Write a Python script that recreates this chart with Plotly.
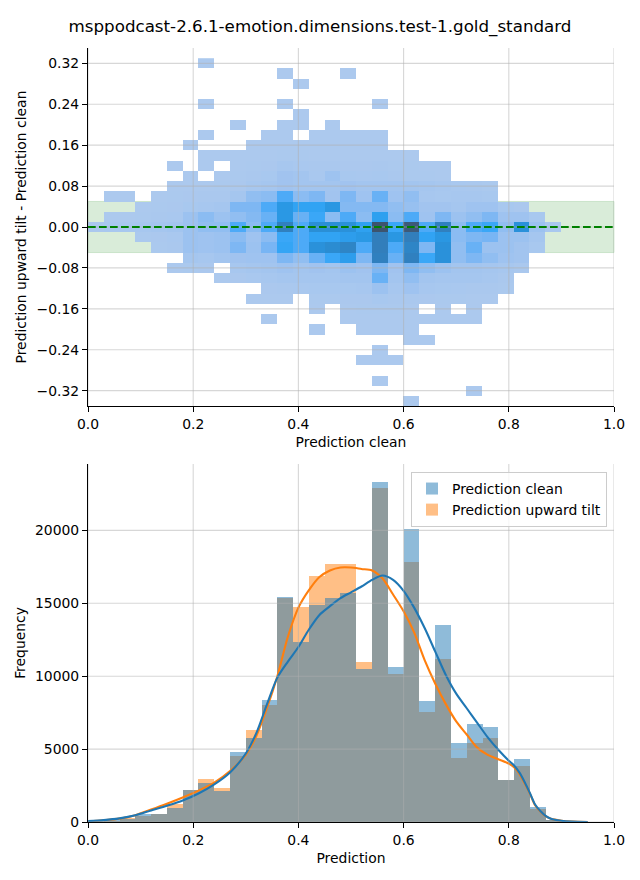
import math
import numpy as np
import plotly.graph_objects as go

TITLE = "msppodcast-2.6.1-emotion.dimensions.test-1.gold_standard"

# ---------------- 2D histogram (top panel) ----------------
HX_CENTERS = [0.015, 0.045, 0.075, 0.105, 0.135, 0.165, 0.195, 0.225, 0.255, 0.285,
              0.315, 0.345, 0.375, 0.405, 0.435, 0.465, 0.495, 0.525, 0.555, 0.585,
              0.615, 0.645, 0.675, 0.705, 0.735, 0.765, 0.795, 0.825, 0.855, 0.885]
HY_CENTERS = [0.32, 0.30, 0.28, 0.26, 0.24, 0.22, 0.20, 0.18, 0.16, 0.14, 0.12, 0.10,
              0.08, 0.06, 0.04, 0.02, 0.00, -0.02, -0.04, -0.06, -0.08, -0.10, -0.12,
              -0.14, -0.16, -0.18, -0.20, -0.22, -0.24, -0.26, -0.28, -0.30, -0.32, -0.34]
# rows top (0.32) -> bottom (-0.34), columns left -> right
COUNTS_2D = [
    [0,0,0,0,0,0,0,1,0,0, 0,0,0,0,0,0,0,0,0,0, 0,0,0,0,0,0,0,0,0,0],
    [0,0,0,0,0,0,0,0,0,0, 0,0,1,0,0,0,1,0,0,0, 0,0,0,0,0,0,0,0,0,0],
    [0,0,0,0,0,0,0,0,0,0, 0,0,0,1,0,0,0,0,0,0, 0,0,0,0,0,0,0,0,0,0],
    [0,0,0,0,0,0,0,0,0,0, 0,0,0,0,0,0,0,0,0,0, 0,0,0,0,0,0,0,0,0,0],
    [0,0,0,0,0,0,0,1,0,0, 0,0,1,0,0,0,0,0,1,0, 0,0,0,0,0,0,0,0,0,0],
    [0,0,0,0,0,0,0,0,0,0, 0,0,0,1,0,0,0,0,0,0, 0,0,0,0,0,0,0,0,0,0],
    [0,0,0,0,0,0,0,0,0,1, 0,0,1,1,0,1,0,0,0,0, 0,0,0,0,0,0,0,0,0,0],
    [0,0,0,0,0,0,0,1,0,0, 0,2,2,0,2,3,2,2,1,0, 0,0,0,0,0,0,0,0,0,0],
    [0,0,0,0,0,0,1,0,0,0, 3,4,5,5,6,6,5,5,4,0, 0,0,0,0,0,0,0,0,0,0],
    [0,0,0,0,0,0,0,3,5,5, 10,10,15,15,10,10,10,10,10,5, 3,0,0,0,0,0,0,0,0,0],
    [0,0,0,0,0,2,0,3,0,10, 15,30,100,60,40,40,30,30,40,20, 15,10,5,0,0,0,0,0,0,0],
    [0,0,0,0,0,0,3,0,10,20, 40,80,250,200,60,300,80,60,80,40, 15,15,10,0,0,0,0,0,0,0],
    [0,0,0,0,0,5,10,10,15,30, 100,150,250,200,200,200,250,200,200,200, 200,150,100,60,40,20,0,0,0,0],
    [0,3,3,0,10,20,30,40,50,150, 560,670,1570,670,900,220,900,280,1230,280, 560,110,80,100,120,80,0,0,0,0],
    [0,0,0,5,20,30,80,100,150,900, 900,1570,2450,1950,1950,2500,800,800,800,560, 450,220,220,150,280,280,80,30,0,0],
    [0,3,10,20,40,60,340,670,340,560, 800,1230,2450,1230,1750,670,1570,670,2100,670, 1570,280,900,340,560,900,280,280,80,0],
    [30,60,80,100,150,200,340,560,560,1570, 670,1570,3500,1570,2850,2850,2750,2050,5600,1750, 5300,1570,3500,670,1570,1750,560,2750,340,60],
    [0,0,0,20,30,60,340,280,340,670, 280,670,1750,1570,1950,1950,2200,2400,3600,2500, 3600,1950,2500,670,900,1000,340,340,150,0],
    [0,0,0,0,20,40,340,280,340,900, 340,1000,1850,1570,2750,3000,3300,1570,3600,1570, 3300,900,2750,560,1230,340,340,220,80,0],
    [0,0,0,0,0,0,150,100,200,250, 280,280,900,560,1230,1750,2200,900,3500,1230, 3500,1750,2750,560,900,560,280,220,0,0],
    [0,0,0,0,0,5,20,30,0,100, 150,200,280,200,250,200,340,250,900,250, 900,560,340,200,200,150,100,50,0,0],
    [0,0,0,0,0,0,0,0,10,30, 60,100,150,150,150,150,200,200,1230,200, 560,200,150,150,150,100,50,0,0,0],
    [0,0,0,0,0,0,0,0,0,0, 0,30,50,60,80,80,80,100,340,100, 280,100,80,60,50,40,20,0,0,0],
    [0,0,0,0,0,0,0,0,0,0, 3,10,10,0,15,20,30,30,80,40, 50,30,20,15,10,5,0,0,0,0],
    [0,0,0,0,0,0,0,0,0,0, 0,0,0,0,3,0,10,15,20,15, 10,0,5,0,3,0,0,0,0,0],
    [0,0,0,0,0,0,0,0,0,0, 0,1,0,0,0,0,5,8,10,8, 10,5,5,3,3,0,0,0,0,0],
    [0,0,0,0,0,0,0,0,0,0, 0,0,0,0,1,0,0,3,5,3, 3,0,0,0,0,0,0,0,0,0],
    [0,0,0,0,0,0,0,0,0,0, 0,0,0,0,0,0,0,0,0,0, 1,1,0,0,0,0,0,0,0,0],
    [0,0,0,0,0,0,0,0,0,0, 0,0,0,0,0,0,0,0,1,0, 0,0,0,0,0,0,0,0,0,0],
    [0,0,0,0,0,0,0,0,0,0, 0,0,0,0,0,0,0,1,2,1, 0,0,0,0,0,0,0,0,0,0],
    [0,0,0,0,0,0,0,0,0,0, 0,0,0,0,0,0,0,0,0,0, 0,0,0,0,0,0,0,0,0,0],
    [0,0,0,0,0,0,0,0,0,0, 0,0,0,0,0,0,0,0,1,0, 0,0,0,0,0,0,0,0,0,0],
    [0,0,0,0,0,0,0,0,0,0, 0,0,0,0,0,0,0,0,0,0, 0,0,0,0,1,0,0,0,0,0],
    [0,0,0,0,0,0,0,0,0,0, 0,0,0,0,0,0,0,0,0,0, 1,0,0,0,0,0,0,0,0,0],
]
BAND_LOW, BAND_HIGH = -0.05, 0.05

# ---------------- 1D histograms (bottom panel) ----------------
HIST_CENTERS = [0.015, 0.045, 0.075, 0.105, 0.135, 0.165, 0.195, 0.225, 0.255, 0.285,
                0.315, 0.345, 0.375, 0.405, 0.435, 0.465, 0.495, 0.525, 0.555, 0.585,
                0.615, 0.645, 0.675, 0.705, 0.735, 0.765, 0.795, 0.825, 0.855, 0.885,
                0.915, 0.945]
HIST_WIDTH = 0.03
CLEAN_COUNTS = [40, 120, 220, 520, 530, 940, 2220, 2670, 2100, 4770, 5750, 8400,
                15410, 12310, 14910, 15340, 15730, 10460, 23340, 10600, 20110, 8270,
                13540, 5390, 6690, 6490, 2860, 4290, 1030, 150, 40, 10]
TILT_COUNTS = [30, 90, 260, 440, 560, 1210, 2200, 2920, 2350, 4520, 6280, 7990,
               15340, 14730, 16900, 17700, 17700, 10940, 22920, 10140, 17860, 7540,
               11210, 4380, 5390, 5750, 2850, 3840, 870, 160, 60, 20]

KDE_X = [0.0, 0.03, 0.06, 0.09, 0.12, 0.15, 0.18, 0.21, 0.24, 0.27, 0.30, 0.32, 0.34,
         0.36, 0.38, 0.40, 0.42, 0.44, 0.46, 0.48, 0.50, 0.52, 0.54, 0.56, 0.58, 0.60,
         0.62, 0.64, 0.66, 0.68, 0.70, 0.72, 0.74, 0.76, 0.78, 0.80, 0.81, 0.82, 0.83,
         0.84, 0.85, 0.86, 0.87, 0.88, 0.90, 0.92, 0.95]
KDE_CLEAN = [60, 130, 250, 460, 790, 1110, 1470, 1950, 2580, 3400, 4700, 6100, 8050,
             9900, 11000, 12000, 13200, 14200, 14800, 15350, 15750, 16150, 16600, 16900,
             16600, 15850, 14700, 13300, 11700, 10100, 8800, 7800, 6800, 5800, 4950,
             4200, 3880, 3400, 2750, 2000, 1200, 750, 420, 230, 90, 30, 0]
KDE_TILT = [40, 120, 230, 470, 850, 1250, 1680, 2150, 2700, 3500, 4600, 5900, 7800,
            10000, 12700, 14700, 15900, 16800, 17250, 17450, 17450, 17350, 17250, 16700,
            15600, 14450, 13000, 11100, 9500, 8100, 6900, 6000, 5100, 4600, 4300,
            4000, 3750, 3300, 2650, 1950, 1150, 720, 400, 220, 90, 30, 0]

X_TICKS = [0.0, 0.2, 0.4, 0.6, 0.8, 1.0]
X_TICK_TEXT = ["0.0", "0.2", "0.4", "0.6", "0.8", "1.0"]
DIFF_TICKS = [0.32, 0.24, 0.16, 0.08, 0.0, -0.08, -0.16, -0.24, -0.32]
DIFF_TICK_TEXT = ["0.32", "0.24", "0.16", "0.08", "0.00", "\u22120.08", "\u22120.16",
                  "\u22120.24", "\u22120.32"]
FREQ_TICKS = [0, 5000, 10000, 15000, 20000]
FREQ_TICK_TEXT = ["0", "5000", "10000", "15000", "20000"]

# ---------------- seaborn-like colormap (HUSL ramp of tab:blue) ----------------
_m = [[3.2406, -1.5372, -0.4986], [-0.9689, 1.8758, 0.0415], [0.0557, -0.2040, 1.0570]]
_m_inv = [[0.4124, 0.3576, 0.1805], [0.2126, 0.7152, 0.0722], [0.0193, 0.1192, 0.9505]]
refU, refV = 0.19784, 0.46834
lab_e, lab_k = 0.008856, 903.3


def _max_chroma(L, H):
    hrad = math.radians(H)
    sinH, cosH = math.sin(hrad), math.cos(hrad)
    sub1 = (L + 16) ** 3 / 1560896.0
    sub2 = sub1 if sub1 > 0.008856 else L / 903.3
    result = float("inf")
    for m1, m2, m3 in _m:
        top = (0.99915 * m1 + 1.05122 * m2 + 1.14460 * m3) * sub2
        rbottom = 0.86330 * m3 - 0.17266 * m2
        lbottom = 0.12949 * m3 - 0.38848 * m1
        bottom = (rbottom * sinH + lbottom * cosH) * sub2
        for t in (0.0, 1.0):
            C = L * (top - 1.05122 * t) / (bottom + 0.17266 * sinH * t)
            if 0.0 < C < result:
                result = C
    return result


def _f(t):
    return t ** (1 / 3) if t > lab_e else 7.787 * t + 16 / 116


def _f_inv(t):
    return t ** 3 if t ** 3 > lab_e else (116 * t - 16) / lab_k


def _to_lin(c):
    return ((c + 0.055) / 1.055) ** 2.4 if c > 0.04045 else c / 12.92


def _from_lin(c):
    return 12.92 * c if c <= 0.0031308 else 1.055 * c ** (1 / 2.4) - 0.055


def rgb_to_husl(r, g, b):
    rgbl = [_to_lin(c) for c in (r, g, b)]
    X, Y, Z = [sum(a * b for a, b in zip(row, rgbl)) for row in _m_inv]
    d = X + 15 * Y + 3 * Z
    L = 116 * _f(Y) - 16
    U = 13 * L * (4 * X / d - refU)
    V = 13 * L * (9 * Y / d - refV)
    C = math.hypot(U, V)
    H = math.degrees(math.atan2(V, U)) % 360
    S = C / _max_chroma(L, H) * 100
    return H, S, L


def husl_to_rgb(H, S, L):
    C = _max_chroma(L, H) / 100 * S
    U = math.cos(math.radians(H)) * C
    V = math.sin(math.radians(H)) * C
    varY = _f_inv((L + 16) / 116)
    varU = U / (13 * L) + refU
    varV = V / (13 * L) + refV
    Y = varY
    X = -(9 * Y * varU) / ((varU - 4) * varV - varU * varV)
    Z = (9 * Y - 15 * varV * Y - varV * X) / (3 * varV)
    return [_from_lin(sum(a * b for a, b in zip(row, (X, Y, Z)))) for row in _m]


base_h, base_s, _ = rgb_to_husl(31 / 255, 119 / 255, 180 / 255)
xx = np.linspace(-1, 1, int(1.15 * 256))[:256]
ramp_l = np.linspace(35, 80, 256)
cols = np.clip([husl_to_rgb(base_h, base_s * math.cos(a), l) for a, l in zip(xx, ramp_l)], 0, 1)[::-1]
idx = np.linspace(0, 255, 52).astype(int)
colorscale = [[i / 51, "rgb(%d,%d,%d)" % tuple(int(round(v * 255)) for v in cols[k])]
              for i, k in enumerate(idx)]

z_asc = [[(v if v > 0 else None) for v in row] for row in COUNTS_2D[::-1]]
y_asc = HY_CENTERS[::-1]
zmax = max(max(r) for r in COUNTS_2D)

FONT = "DejaVu Sans"
fig = go.Figure()
fig.add_trace(go.Heatmap(x=HX_CENTERS, y=y_asc, z=z_asc, colorscale=colorscale,
                         zmin=1, zmax=zmax, showscale=False, hoverinfo="skip",
                         xaxis="x", yaxis="y"))

fig.add_trace(go.Bar(x=HIST_CENTERS, y=TILT_COUNTS, width=HIST_WIDTH,
                     marker=dict(color="rgba(255,127,14,0.5)", line=dict(width=0)),
                     name="Prediction upward tilt", legendrank=2,
                     xaxis="x2", yaxis="y2"))
fig.add_trace(go.Bar(x=HIST_CENTERS, y=CLEAN_COUNTS, width=HIST_WIDTH,
                     marker=dict(color="rgba(31,119,180,0.5)", line=dict(width=0)),
                     name="Prediction clean", legendrank=1,
                     xaxis="x2", yaxis="y2"))
fig.add_trace(go.Scatter(x=KDE_X, y=KDE_TILT, mode="lines",
                         line=dict(color="#ff7f0e", width=2.1, shape="spline", smoothing=0.8),
                         showlegend=False, hoverinfo="skip", xaxis="x2", yaxis="y2"))
fig.add_trace(go.Scatter(x=KDE_X, y=KDE_CLEAN, mode="lines",
                         line=dict(color="#1f77b4", width=2.1, shape="spline", smoothing=0.8),
                         showlegend=False, hoverinfo="skip", xaxis="x2", yaxis="y2"))

shapes = []
shapes.append(dict(type="rect", xref="x domain", yref="y", x0=0, x1=1, y0=BAND_LOW, y1=BAND_HIGH,
                   fillcolor="rgba(0,128,0,0.15)", line=dict(color="rgba(0,128,0,0.15)", width=1),
                   layer="below"))
GRID = "rgba(176,176,176,0.5)"
for xa, ya, yvals in (("x", "y", DIFF_TICKS), ("x2", "y2", FREQ_TICKS)):
    for xv in X_TICKS:
        shapes.append(dict(type="line", xref=xa, yref=ya + " domain", x0=xv, x1=xv, y0=0, y1=1,
                           line=dict(color=GRID, width=1.1), layer="above"))
    for yv in yvals:
        shapes.append(dict(type="line", xref=xa + " domain", yref=ya, x0=0, x1=1, y0=yv, y1=yv,
                           line=dict(color=GRID, width=1.1), layer="above"))
shapes.append(dict(type="line", xref="x domain", yref="y", x0=0, x1=1, y0=0, y1=0,
                   line=dict(color="green", width=2.1, dash="7.7px,3.3px"), layer="above"))

axis_common = dict(showline=True, linecolor="black", linewidth=1.1, ticks="outside",
                   ticklen=5, tickwidth=1.1, tickcolor="black", showgrid=False,
                   zeroline=False, tickfont=dict(size=13.9, color="black", family=FONT),
                   mirror=False)

# page body has an 8px margin, so the figure is 8px smaller on each axis
W, H = 632, 872
fig.update_layout(
    width=W, height=H,
    margin=dict(l=80, r=26, t=40, b=58),
    paper_bgcolor="white", plot_bgcolor="white",
    font=dict(family=FONT, size=13.9, color="black"),
    title=dict(text=TITLE, x=312 / W, xref="container", xanchor="center",
               y=1 - 18 / H, yref="container", yanchor="middle",
               font=dict(size=16.7, color="black", family=FONT)),
    barmode="overlay", bargap=0,
    showlegend=True,
    legend=dict(x=(607 - 88) / 526, xanchor="right", y=(822 - 472) / 774, yanchor="top",
                bgcolor="rgba(255,255,255,0.8)", bordercolor="#cccccc", borderwidth=1,
                font=dict(size=13.9, family=FONT, color="black"), tracegroupgap=0),
    shapes=shapes,
    xaxis=dict(domain=[0, 1], anchor="y", range=[0, 1], tickvals=X_TICKS, ticktext=X_TICK_TEXT,
               title=dict(text="Prediction clean", font=dict(size=13.9), standoff=6), **axis_common),
    yaxis=dict(domain=[(822 - 406) / 774, 1], anchor="x", range=[-0.35, 0.35],
               tickvals=DIFF_TICKS, ticktext=DIFF_TICK_TEXT,
               title=dict(text="Prediction upward tilt - Prediction clean", font=dict(size=13.9), standoff=6),
               **axis_common),
    xaxis2=dict(domain=[0, 1], anchor="y2", range=[0, 1], tickvals=X_TICKS, ticktext=X_TICK_TEXT,
                title=dict(text="Prediction", font=dict(size=13.9), standoff=6), **axis_common),
    yaxis2=dict(domain=[0, (822 - 464) / 774], anchor="x2", range=[0, 24550],
                tickvals=FREQ_TICKS, ticktext=FREQ_TICK_TEXT,
                title=dict(text="Frequency", font=dict(size=13.9), standoff=6), **axis_common),
)

fig.write_html("out.html")
